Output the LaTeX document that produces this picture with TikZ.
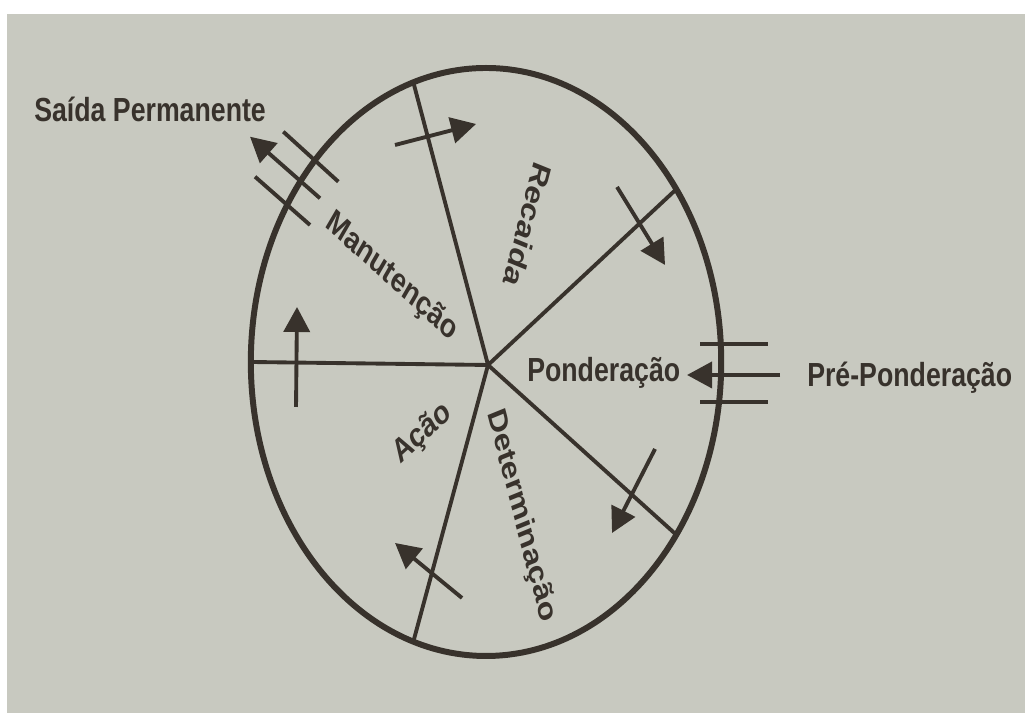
\documentclass[tikz,border=0pt]{standalone}
\usepackage{fontspec}
\setmainfont{Liberation Sans}
\usetikzlibrary{arrows.meta}
\definecolor{ink}{RGB}{56,50,44}
\definecolor{paper}{RGB}{200,201,192}
\tikzset {
  >={Triangle[length=5mm,width=5.2mm]},
  every node/.style={font=\fontsize{19}{23}\selectfont, text=ink, inner sep=0pt, transform shape},
  ring/.style={draw=ink, line width=3.4pt},
  spoke/.style={draw=ink, line width=2.2pt},
  flow/.style={->, draw=ink, line width=2.2pt},
  bar/.style={draw=ink, line width=2.2pt},
  stage/.style={font=\fontsize{19}{23}\selectfont\bfseries},
}

\begin{document}
\begin{tikzpicture}[x=0.2mm, y=0.2mm, xscale=0.8]
  \useasboundingbox (0,0) rectangle (1281.25,713);
  \fill[white] (0,0) rectangle (1281.25,713);
  \fill[paper] (8.75,0) rectangle (1281.25,699);

  \coordinate (ctr) at (607.5,351);
  \coordinate (hub) at (610,348);
  \draw[ring] (ctr) circle[radius=294];
  \foreach \a/\n in {180/1,108/2,36/3,-36/4,-108/5} {
    \path (ctr) ++(\a:294) coordinate (s\n);
    \draw[spoke] (hub) -- (s\n);
  }

  \coordinate (a1) at (370,306);     \coordinate (b1) at (371.25,406);
  \coordinate (a2) at (493.75,568);  \coordinate (b2) at (595,589);
  \coordinate (a3) at (771.25,526);  \coordinate (b3) at (831.25,448);
  \coordinate (a4) at (818.75,264);  \coordinate (b4) at (765,180);
  \coordinate (a5) at (577.5,115);   \coordinate (b5) at (493.75,170);
  \foreach \i in {1,...,5}
    \draw[flow] (a\i) -- (b\i);

  \node[stage, anchor=base west] (saida) at (42.5,591) {Saída Permanente};
  \node[stage, anchor=base west] (pre) at (1008.75,326) {Pré-Ponderação};
  \node[stage, anchor=base west] (ponderacao) at (658.75,331) {Ponderação};
  \node[stage, rotate=-108] (recaida) at (660,488) {Recaida};
  \node[stage, rotate=-36] (manutencao) at (489.4,436) {Manutenção};
  \node[stage, rotate=36] (acao) at (528,279) {Ação};
  \node[stage, rotate=-72] (determinacao) at (651.25,197) {Determinação};

  \coordinate (preIn) at (975,338);
  \coordinate (ponIn) at (858.75,338);
  \draw[flow] (preIn) -- (ponIn);
  \draw[bar] (875,369) -- (960,369);
  \draw[bar] (875,311) -- (960,311);

  \coordinate (saiOut) at (400,514.7);
  \coordinate (saiEnd) at (312.5,576.3);
  \draw[flow] (saiOut) -- (saiEnd);
  \draw[bar] (354.1,581.3) -- (422.9,531.3);
  \draw[bar] (318.75,536.3) -- (387.5,488);
\end{tikzpicture}
\end{document}
